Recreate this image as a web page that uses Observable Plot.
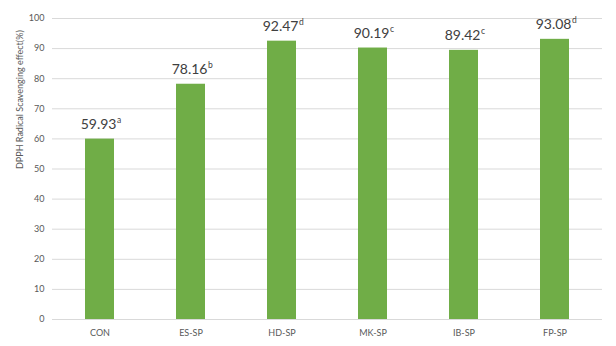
<!DOCTYPE html>
<html>
<head>
<meta charset="utf-8">
<script src="https://cdn.jsdelivr.net/npm/d3@7"></script>
<script src="https://cdn.jsdelivr.net/npm/@observablehq/plot@0.6"></script>
<style>
  html, body { margin: 0; padding: 0; background: #fff; }
</style>
</head>
<body>
<div id="chart"></div>
<script>
const categories = ["CON", "ES-SP", "HD-SP", "MK-SP", "IB-SP", "FP-SP"];
const values = [59.93, 78.16, 92.47, 90.19, 89.42, 93.08];
const letters = ["a", "b", "d", "c", "c", "d"];
const yTicks = [0, 10, 20, 30, 40, 50, 60, 70, 80, 90, 100];
const yLabel = "DPPH Radical Scavenging effect(%)";

const data = categories.map((c, i) => ({cat: c, v: values[i], l: letters[i]}));

const chart = Plot.plot({
  width: 616,
  height: 346,
  marginLeft: 52,
  marginRight: 14,
  marginTop: 18,
  marginBottom: 27,
  style: {fontFamily: "Lato, 'Open Sans', sans-serif", background: "#fff"},
  x: {domain: categories, paddingInner: 0.68, paddingOuter: 0.34, align: 0.5, label: null, tickSize: 0, tickPadding: 10},
  y: {domain: [0, 100], ticks: yTicks, label: null, tickSize: 0, tickPadding: 8},
  marks: [
    Plot.gridY(yTicks, {stroke: "#d9d9d9", strokeOpacity: 1, strokeWidth: 1}),
    Plot.axisY({ticks: yTicks, tickSize: 0, tickPadding: 8, fontSize: 9, color: "#595959", label: null}),
    Plot.axisX({tickSize: 0, tickPadding: 10, fontSize: 9, color: "#595959", label: null}),
    Plot.text([yLabel], {frameAnchor: "left", dx: -32, rotate: -90, fontSize: 9, fill: "#595959"}),
    Plot.barY(data, {x: "cat", y: "v", fill: "#70ad47"}),
    Plot.text(data, {x: "cat", y: "v", text: d => d.v.toFixed(2), textAnchor: "end", dx: 16.5, dy: -15, fontSize: 14, fill: "#404040"}),
    Plot.text(data, {x: "cat", y: "v", text: "l", textAnchor: "start", dx: 17, dy: -19, fontSize: 8.5, fill: "#404040"})
  ]
});
document.getElementById("chart").appendChild(chart);
</script>
</body>
</html>
